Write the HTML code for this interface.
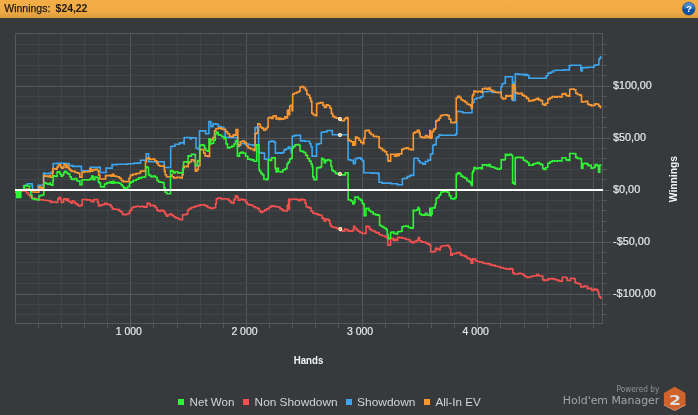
<!DOCTYPE html>
<html><head><meta charset="utf-8"><title>Winnings</title>
<style>
html,body{margin:0;padding:0;background:#363a3d;}
body{width:698px;height:415px;overflow:hidden;position:relative;font-family:"Liberation Sans",sans-serif;}
svg{position:absolute;left:0;top:0;display:block;will-change:transform}
text{font-family:"Liberation Sans",sans-serif;}
</style></head><body>
<svg width="698" height="415" viewBox="0 0 698 415">
<defs>
<linearGradient id="hd" x1="0" y1="0" x2="0" y2="1">
<stop offset="0" stop-color="#f3ae47"/><stop offset="0.6" stop-color="#f1ab44"/><stop offset="1" stop-color="#d99c3d"/>
</linearGradient>
<linearGradient id="hb" x1="0" y1="0" x2="0" y2="1"><stop offset="0" stop-color="#3a80cc"/><stop offset="0.5" stop-color="#2267b8"/><stop offset="0.52" stop-color="#0f55a6"/><stop offset="1" stop-color="#0e4f9c"/></linearGradient>
</defs>
<g shape-rendering="crispEdges">
<rect x="0" y="0" width="698" height="415" fill="#363a3d"/>
<rect x="38" y="33" width="1" height="290" fill="#414548"/>
<rect x="38" y="323" width="1" height="5" fill="#55585b"/>
<rect x="61" y="33" width="1" height="290" fill="#414548"/>
<rect x="61" y="323" width="1" height="5" fill="#55585b"/>
<rect x="84" y="33" width="1" height="290" fill="#414548"/>
<rect x="84" y="323" width="1" height="5" fill="#55585b"/>
<rect x="107" y="33" width="1" height="290" fill="#414548"/>
<rect x="107" y="323" width="1" height="5" fill="#55585b"/>
<rect x="130" y="33" width="1" height="290" fill="#55585b"/>
<rect x="130" y="323" width="1" height="5" fill="#55585b"/>
<rect x="153" y="33" width="1" height="290" fill="#414548"/>
<rect x="153" y="323" width="1" height="5" fill="#55585b"/>
<rect x="177" y="33" width="1" height="290" fill="#414548"/>
<rect x="177" y="323" width="1" height="5" fill="#55585b"/>
<rect x="200" y="33" width="1" height="290" fill="#414548"/>
<rect x="200" y="323" width="1" height="5" fill="#55585b"/>
<rect x="223" y="33" width="1" height="290" fill="#414548"/>
<rect x="223" y="323" width="1" height="5" fill="#55585b"/>
<rect x="246" y="33" width="1" height="290" fill="#55585b"/>
<rect x="246" y="323" width="1" height="5" fill="#55585b"/>
<rect x="269" y="33" width="1" height="290" fill="#414548"/>
<rect x="269" y="323" width="1" height="5" fill="#55585b"/>
<rect x="292" y="33" width="1" height="290" fill="#414548"/>
<rect x="292" y="323" width="1" height="5" fill="#55585b"/>
<rect x="315" y="33" width="1" height="290" fill="#414548"/>
<rect x="315" y="323" width="1" height="5" fill="#55585b"/>
<rect x="338" y="33" width="1" height="290" fill="#414548"/>
<rect x="338" y="323" width="1" height="5" fill="#55585b"/>
<rect x="362" y="33" width="1" height="290" fill="#55585b"/>
<rect x="362" y="323" width="1" height="5" fill="#55585b"/>
<rect x="385" y="33" width="1" height="290" fill="#414548"/>
<rect x="385" y="323" width="1" height="5" fill="#55585b"/>
<rect x="408" y="33" width="1" height="290" fill="#414548"/>
<rect x="408" y="323" width="1" height="5" fill="#55585b"/>
<rect x="431" y="33" width="1" height="290" fill="#414548"/>
<rect x="431" y="323" width="1" height="5" fill="#55585b"/>
<rect x="454" y="33" width="1" height="290" fill="#414548"/>
<rect x="454" y="323" width="1" height="5" fill="#55585b"/>
<rect x="477" y="33" width="1" height="290" fill="#55585b"/>
<rect x="477" y="323" width="1" height="5" fill="#55585b"/>
<rect x="500" y="33" width="1" height="290" fill="#414548"/>
<rect x="500" y="323" width="1" height="5" fill="#55585b"/>
<rect x="524" y="33" width="1" height="290" fill="#414548"/>
<rect x="524" y="323" width="1" height="5" fill="#55585b"/>
<rect x="547" y="33" width="1" height="290" fill="#414548"/>
<rect x="547" y="323" width="1" height="5" fill="#55585b"/>
<rect x="570" y="33" width="1" height="290" fill="#414548"/>
<rect x="570" y="323" width="1" height="5" fill="#55585b"/>
<rect x="593" y="33" width="1" height="290" fill="#55585b"/>
<rect x="593" y="323" width="1" height="5" fill="#55585b"/>
<rect x="15" y="314" width="587" height="1" fill="#414548"/>
<rect x="602" y="314" width="5" height="1" fill="#55585b"/>
<rect x="15" y="304" width="587" height="1" fill="#414548"/>
<rect x="602" y="304" width="5" height="1" fill="#55585b"/>
<rect x="15" y="294" width="587" height="1" fill="#55585b"/>
<rect x="602" y="294" width="9" height="1" fill="#55585b"/>
<rect x="15" y="283" width="587" height="1" fill="#414548"/>
<rect x="602" y="283" width="5" height="1" fill="#55585b"/>
<rect x="15" y="273" width="587" height="1" fill="#414548"/>
<rect x="602" y="273" width="5" height="1" fill="#55585b"/>
<rect x="15" y="262" width="587" height="1" fill="#414548"/>
<rect x="602" y="262" width="5" height="1" fill="#55585b"/>
<rect x="15" y="252" width="587" height="1" fill="#414548"/>
<rect x="602" y="252" width="5" height="1" fill="#55585b"/>
<rect x="15" y="242" width="587" height="1" fill="#55585b"/>
<rect x="602" y="242" width="9" height="1" fill="#55585b"/>
<rect x="15" y="231" width="587" height="1" fill="#414548"/>
<rect x="602" y="231" width="5" height="1" fill="#55585b"/>
<rect x="15" y="221" width="587" height="1" fill="#414548"/>
<rect x="602" y="221" width="5" height="1" fill="#55585b"/>
<rect x="15" y="210" width="587" height="1" fill="#414548"/>
<rect x="602" y="210" width="5" height="1" fill="#55585b"/>
<rect x="15" y="200" width="587" height="1" fill="#414548"/>
<rect x="602" y="200" width="5" height="1" fill="#55585b"/>
<rect x="15" y="190" width="587" height="1" fill="#55585b"/>
<rect x="602" y="190" width="9" height="1" fill="#55585b"/>
<rect x="15" y="179" width="587" height="1" fill="#414548"/>
<rect x="602" y="179" width="5" height="1" fill="#55585b"/>
<rect x="15" y="169" width="587" height="1" fill="#414548"/>
<rect x="602" y="169" width="5" height="1" fill="#55585b"/>
<rect x="15" y="158" width="587" height="1" fill="#414548"/>
<rect x="602" y="158" width="5" height="1" fill="#55585b"/>
<rect x="15" y="148" width="587" height="1" fill="#414548"/>
<rect x="602" y="148" width="5" height="1" fill="#55585b"/>
<rect x="15" y="138" width="587" height="1" fill="#55585b"/>
<rect x="602" y="138" width="9" height="1" fill="#55585b"/>
<rect x="15" y="127" width="587" height="1" fill="#414548"/>
<rect x="602" y="127" width="5" height="1" fill="#55585b"/>
<rect x="15" y="117" width="587" height="1" fill="#414548"/>
<rect x="602" y="117" width="5" height="1" fill="#55585b"/>
<rect x="15" y="106" width="587" height="1" fill="#414548"/>
<rect x="602" y="106" width="5" height="1" fill="#55585b"/>
<rect x="15" y="96" width="587" height="1" fill="#414548"/>
<rect x="602" y="96" width="5" height="1" fill="#55585b"/>
<rect x="15" y="86" width="587" height="1" fill="#55585b"/>
<rect x="602" y="86" width="9" height="1" fill="#55585b"/>
<rect x="15" y="75" width="587" height="1" fill="#414548"/>
<rect x="602" y="75" width="5" height="1" fill="#55585b"/>
<rect x="15" y="65" width="587" height="1" fill="#414548"/>
<rect x="602" y="65" width="5" height="1" fill="#55585b"/>
<rect x="15" y="54" width="587" height="1" fill="#414548"/>
<rect x="602" y="54" width="5" height="1" fill="#55585b"/>
<rect x="15" y="44" width="587" height="1" fill="#414548"/>
<rect x="602" y="44" width="5" height="1" fill="#55585b"/>
<rect x="15" y="33" width="588" height="1" fill="#55585b"/>
<rect x="15" y="323" width="588" height="1" fill="#55585b"/>
<rect x="15" y="33" width="1" height="291" fill="#55585b"/>
<rect x="602" y="33" width="1" height="291" fill="#55585b"/>
</g>
<path d="M15.0 190.0H17.0V191.0H20.5V191.0H23.5V190.5H25.4V191.3H26.6V193.0H28.1V194.7H29.9V196.6H32.0V198.1H34.6V198.8H37.5V199.5H40.3V199.7H43.2V200.2H46.3V200.5H49.0V200.9H50.7V202.4H51.9V202.0H53.9V202.1H56.2V202.4H57.8V198.8H59.1V197.3H60.4V199.5H61.4V202.4H62.6V202.4H63.6V199.1H64.8V198.8H66.1V200.5H67.2V199.1H68.5V201.4H70.0V202.0H71.3V203.1H72.4V200.9H73.6V201.7H75.0V203.4H76.8V204.6H78.6V206.0H80.1V205.7H81.4V204.9H82.3V199.5H83.9V199.5H86.6V199.9H89.1V199.9H90.9V201.4H92.6V201.7H93.9V199.5H95.7V199.5H97.6V202.4H98.6V206.0H99.7V205.7H101.0V204.9H102.8V204.6H104.7V203.4H106.8V204.3H109.1V204.9H110.1V204.9H111.0V206.7H112.4V208.9H114.1V209.2H116.8V209.6H119.4V211.1H121.1V212.1H122.5V214.4H124.2V214.7H126.4V214.0H128.4V213.2H129.7V210.6H130.8V209.6H132.0V207.5H133.6V206.9H136.3V206.3H139.2V206.7H141.8V206.3H143.9V207.2H145.7V206.9H147.1V203.1H148.6V203.8H150.1V205.7H151.6V205.3H153.5V205.7H155.3V207.5H156.8V210.1H158.5V211.1H160.8V210.3H163.1V211.1H164.5V212.9H165.6V214.7H166.7V216.1H167.9V214.7H169.9V214.1H171.8V215.4H173.7V216.8H175.7V217.9H177.9V218.7H180.1V219.7H181.6V219.7H182.6V214.7H184.0V214.7H186.3V214.0H187.7V210.1H189.2V208.6H191.4V207.5H193.6V206.9H195.7V206.0H198.4V205.4H200.4V204.9H202.5V204.7H205.2V205.9H207.5V207.4H210.2V208.4H213.5V207.8H215.6V203.8H216.4V198.7H218.2V198.0H221.1V199.0H224.0V198.7H226.6V199.0H228.8V200.6H230.7V202.6H232.5V203.1H233.9V199.4H235.5V195.8H237.1V197.3H238.3V200.2H240.1V199.4H243.1V199.9H245.6V202.1H247.1V204.1H248.9V204.9H251.1V205.2H253.2V206.7H255.4V207.8H257.6V208.6H259.4V211.0H260.8V212.5H262.6V211.3H264.8V209.9H266.9V208.8H269.1V207.0H271.3V205.9H273.5V206.4H275.6V206.7H277.8V207.0H280.0V208.8H282.1V210.1H284.1V211.0H286.0V211.0H287.3V205.2H288.0V208.8H288.6V199.4H289.1V208.1H289.4V210.3H289.4V200.9H289.8V199.4H291.6V199.2H294.7V199.0H297.3V199.7H299.0V200.6H300.6V199.4H303.0V199.9H305.1V203.1H306.2V206.7H307.9V207.4H309.7V208.1H311.1V211.3H312.9V213.2H315.5V213.9H318.0V214.9H320.2V215.3H322.0V217.9H323.4V219.4H324.5V221.1H325.4V219.0H326.8V219.4H328.5V220.4H329.7V223.7H330.8V226.2H332.4V227.2H334.6V227.6H337.1V228.6H339.3V228.8H340.9V230.9H342.9V231.2H344.6V229.1H346.0V229.5H347.8V230.9H350.1V231.2H352.3V230.5H353.6V226.2H354.7V228.3H356.1V229.5H357.9V231.2H359.9V232.4H362.1V233.4H364.4V233.4H366.1V226.2H367.7V226.6H369.5V229.1H371.1V230.5H373.6V231.2H375.2V232.1H376.6V232.9H379.2V234.7H381.9V235.8H384.9V236.8H387.0V237.9H387.8V245.1H389.3V245.1H390.6V238.7H391.9V238.3H393.3V240.5H394.7V239.3H396.4V240.5H397.6V237.3H399.4V237.6H402.5V238.3H405.5V239.3H407.9V239.7H409.9V241.6H411.9V242.6H414.1V241.6H416.4V240.5H418.3V237.6H419.5V240.8H421.3V241.9H423.7V242.2H425.8V243.3H427.8V244.1H429.6V245.1H430.7V251.7H432.1V252.0H434.1V251.3H435.6V248.4H437.2V249.1H439.1V250.0H440.3V247.3H441.3V246.0H443.6V245.8H446.5V245.4H448.6V246.8H449.8V248.7H450.8V255.2H452.2V253.8H454.6V253.5H457.0V252.6H458.8V252.6H460.4V254.9H462.2V255.5H464.7V256.4H466.9V258.1H468.7V258.8H470.4V259.9H471.2V263.2H472.0V263.2H472.7V258.8H473.7V258.8H475.4V260.7H477.4V261.7H480.3V262.2H483.2V263.2H485.7V263.6H488.2V263.9H490.4V265.1H492.8V265.4H495.3V266.2H498.0V266.8H500.5V267.7H503.0V268.2H505.6V269.0H507.7V269.1H509.9V268.5H511.6V269.0H512.9V272.9H514.2V274.0H516.2V274.0H518.6V273.3H520.7V273.7H523.4V275.5H525.4V276.7H526.9V277.5H529.5V276.7H532.2V276.0H534.7V275.7H536.7V274.6H538.5V275.7H540.9V276.0H542.7V279.6H543.9V280.4H545.7V280.1H547.9V278.9H550.4V278.6H552.9V278.9H555.1V279.8H557.3V280.4H559.4V281.1H561.2V281.1H562.3V277.2H563.8V277.2H565.8V277.8H567.2V280.4H568.9V280.4H570.6V278.2H572.3V278.3H574.1V278.9H575.0V282.5H576.4V283.2H578.9V284.0H580.8V286.9H582.0V286.9H584.0V286.1H586.0V286.4H587.5V288.7H588.7V288.3H590.4V288.4H591.7V290.5H593.0V290.2H594.3V289.0H595.9V289.6H597.6V291.2H598.5V293.4H599.1V296.2H599.8V297.1H600.8V298.3H601.4" fill="none" stroke="#f55050" stroke-width="1.6" stroke-linejoin="miter" stroke-linecap="butt"/>
<path d="M15.0 190.0H19.0V190.0H23.1V189.9H23.7V185.6H25.5V185.2H27.2V183.8H29.6V183.8H32.1V186.0H32.6V189.9H35.4V190.0H38.0V189.9H38.1V185.2H40.8V185.2H43.6V173.0H45.2V173.7H48.4V173.4H51.2V172.1H52.7V172.1H53.2V163.5H57.0V163.3H64.8V163.5H69.2V165.6H70.7V165.6H72.8V166.4H77.3V166.4H81.4V170.7H85.8V170.7H90.2V167.4H95.2V167.4H100.2V172.5H103.1V172.5H106.1V168.1H108.2V168.1H110.1V168.2H111.0V168.2H112.1V164.6H117.1V164.3H127.8V163.8H134.2V163.1H137.3V163.1H140.5V160.2H143.3V160.2H146.2V153.7H147.4V153.7H148.6V161.7H156.4V161.7H164.2V167.5H167.5V167.5H170.7V146.5H172.9V146.1H175.1V144.3H177.3V144.3H179.5V142.9H181.7V142.9H183.8V140.7H184.1V144.0H184.2V137.5H187.2V137.5H190.5V138.9H191.3V137.8H193.7V137.8H196.0V148.3H197.8V149.0H199.5V130.9H202.5V130.9H205.6V133.8H207.3V133.8H208.9V121.6H209.9V121.6H210.9V126.6H211.8V126.2H213.2V123.7H215.9V124.2H218.3V126.6H220.9V127.3H223.8V129.5H225.2V137.2H228.3V137.5H233.8V137.5H237.6V146.8H238.8V145.4H240.8V143.5H244.7V144.0H249.0V144.7H252.8V145.4H255.1V127.6H256.9V127.3H258.6V152.6H261.5V153.1H264.5V159.1H266.7V159.1H268.7V141.8H270.8V141.1H273.8V142.1H275.4V153.3H277.9V152.8H280.5V153.2H282.4V152.5H284.2V149.6H286.2V148.8H288.3V147.0H289.8V148.4H291.2V152.5H292.2V136.3H294.4V135.4H298.1V135.4H300.5V140.9H305.0V141.3H309.7V143.8H311.0V146.7H312.1V156.1H314.3V156.1H316.6V144.1H319.0V143.5H321.3V132.2H324.2V131.7H327.2V130.5H329.8V130.5H332.3V134.8H336.3V134.8H343.9V134.8H348.1V159.7H350.7V160.4H353.4V163.7H354.5V163.3H355.4V158.5H357.9V157.9H360.7V159.1H362.4V160.9H363.8V172.8H371.1V173.1H378.3V174.2H378.7V173.7H379.1V182.3H382.1V183.1H390.9V183.8H397.4V184.7H400.0V184.7H402.4V178.7H404.7V178.3H407.3V176.6H409.9V175.4H412.7V175.1H413.7V165.0H414.0V164.9H414.0V158.3H415.9V158.3H418.3V160.9H419.8V162.7H422.7V164.1H425.3V161.5H427.9V160.1H430.5V154.3H431.8V153.7H432.9V145.3H434.5V144.6H436.2V138.1H437.4V136.7H439.1V134.9H440.5V135.3H448.0V135.2H455.8V134.0H456.8V111.6H456.9V112.7H457.0V111.2H459.7V111.8H462.8V112.7H467.4V112.7H472.0V102.9H473.1V102.3H474.1V99.0H476.4V98.0H480.5V96.8H482.9V91.7H487.5V91.5H492.2V92.5H496.5V92.5H501.0V86.7H502.2V83.8H503.8V83.2H505.3V76.8H508.9V76.8H512.4V100.4H513.0V82.3H513.6V100.4H514.5V100.4H515.3V73.7H518.0V74.4H522.7V74.8H525.0V74.3H525.2V75.4H525.8V74.6H527.3V75.3H528.9V78.2H537.5V78.2H546.2V75.7H547.9V73.1H550.9V72.0H553.4V70.5H556.2V70.2H563.6V69.9H569.3V65.6H570.8V65.2H576.1V65.2H580.8V70.5H581.6V71.0H582.3V67.6H588.0V67.3H594.0V65.3H596.5V64.7H598.9V59.0H599.8V58.0H600.7V56.5H601.1" fill="none" stroke="#3ca5ee" stroke-width="1.6" stroke-linejoin="miter" stroke-linecap="butt"/>
<path d="M15.0 192.3H15.7V192.3H16.6V190.3H20.4V190.0H25.0V189.0H27.0V189.0H29.0V190.0H31.3V192.0H35.6V192.2H38.8V190.0H39.0V189.9H39.0V187.1H39.3V186.7H40.1V187.6H41.5V188.2H42.9V187.6H43.6V175.6H45.0V176.1H47.3V176.7H49.2V175.6H50.4V177.2H51.6V177.3H52.6V173.0H52.9V168.5H54.2V168.7H56.0V169.1H57.1V167.1H58.1V165.2H59.4V164.8H60.6V166.9H61.6V168.2H63.0V167.4H64.0V164.3H65.0V164.5H66.0V167.4H67.0V165.2H67.9V167.6H69.0V169.1H70.3V170.4H71.5V171.4H72.8V171.3H75.0V172.5H77.8V173.2H79.8V177.1H81.1V177.1H82.0V172.2H83.7V171.7H87.2V171.7H89.8V168.8H91.0V171.3H92.7V169.9H95.3V169.3H97.4V170.7H98.7V175.3H99.9V179.0H102.8V179.0H105.6V175.6H108.0V175.6H110.1V175.0H111.2V176.1H112.8V174.4H113.9V176.1H116.5V176.8H119.4V178.3H121.3V180.5H123.1V181.6H126.2V181.6H129.1V178.3H130.3V175.4H132.7V174.4H136.1V173.5H139.0V173.2H140.5V171.1H142.9V171.1H145.5V161.7H146.5V158.5H147.9V158.1H149.7V159.5H152.0V159.1H154.8V160.9H156.8V163.1H158.2V165.3H159.8V166.3H162.4V166.0H164.4V171.1H165.2V174.7H166.5V176.8H168.9V176.8H171.0V174.7H172.0V176.8H173.8V177.9H176.9V177.3H180.2V177.9H182.2V174.7H183.1V167.5H184.5V166.3H186.7V166.7H188.2V163.1H189.4V161.7H191.4V159.9H193.8V161.4H195.4V171.1H196.8V169.6H198.3V166.0H199.3V165.7H200.0V162.8H200.0V149.3H201.6V149.7H203.7V153.1H205.1V155.9H207.7V156.5H209.6V140.6H211.0V139.6H213.0V137.5H214.5V130.9H215.9V128.8H218.3V128.1H221.4V129.1H223.9V129.5H225.7V131.7H227.5V133.8H229.5V136.3H231.4V136.7H233.2V134.9H234.9V135.3H236.0V129.5H236.9V129.5H237.8V146.1H238.8V144.7H240.3V141.8H242.3V141.1H244.7V142.9H246.5V145.8H248.1V147.9H250.5V149.0H253.4V150.5H255.1V133.8H256.4V133.1H257.7V123.7H258.9V124.2H260.3V127.0H261.8V128.1H263.6V130.2H265.5V128.8H267.1V127.3H268.1V118.0H269.4V117.2H271.4V118.4H273.1V116.1H274.5V115.8H276.1V119.0H277.5V118.0H279.1V119.4H280.1V118.3H281.3V119.3H283.1V118.7H284.8V116.8H286.4V117.9H287.5V110.6H288.3V110.1H289.1V114.7H289.7V106.0H290.9V105.3H292.1V110.6H292.7V94.2H294.2V93.3H296.6V92.3H298.8V91.3H300.1V87.2H301.5V86.5H303.7V88.0H305.5V90.1H306.8V94.2H308.3V95.2H309.7V98.1H310.8V101.4H311.8V113.2H313.2V114.7H315.3V115.8H316.7V103.8H318.2V103.1H320.8V102.5H323.0V105.3H324.4V107.5H326.3V104.9H328.1V105.7H329.9V108.2H331.4V113.5H332.7V116.4H334.6V117.6H336.9V118.3H339.0V119.0H340.8V120.5H342.6V120.8H344.4V118.7H346.0V117.6H347.3V117.9H348.1V140.0H348.3V139.9H349.2V140.7H351.2V141.7H352.8V145.1H353.9V141.7H354.7V144.6H355.5V137.0H357.0V138.1H359.0V140.3H360.8V142.5H362.6V143.6H363.9V138.1H365.0V130.6H367.3V130.2H369.3V132.6H370.9V134.5H373.4V136.4H376.7V136.7H379.1V147.5H380.5V148.5H382.5V150.4H384.6V151.8H386.7V154.7H387.9V160.9H389.4V161.2H390.6V154.3H392.2V154.3H394.6V156.2H396.4V154.0H397.8V155.8H399.0V153.7H400.5V154.0H401.8V149.4H403.6V148.5H406.1V147.9H408.3V149.0H410.8V149.7H412.7V149.7H413.3V133.1H414.7V132.1H417.3V130.2H419.3V133.1H420.1V136.7H421.7V137.4H423.8V137.8H425.5V135.5H427.4V137.4H429.0V136.7H429.8V130.6H430.4V138.1H431.3V137.4H432.1V131.6H433.6V129.4H435.1V128.7H435.8V121.1H437.2V120.1H439.1V118.2H440.4V115.6H442.3V115.0H445.2V114.9H447.6V115.6H449.2V119.2H450.8V122.5H452.8V122.8H454.9V122.1H456.2V98.0H457.7V96.2H459.7V97.5H461.1V99.7H462.9V100.8H465.1V102.3H466.9V104.0H468.7V104.7H470.5V105.5H471.4V108.3H471.8V108.3H472.3V96.1H472.9V94.6H473.9V91.0H475.7V91.9H478.5V91.3H481.0V92.2H482.4V88.8H484.2V88.4H486.8V89.3H488.6V88.1H490.4V90.3H492.6V91.3H494.7V92.2H497.3V92.5H499.7V92.2H501.2V97.5H502.7V99.0H504.7V98.5H505.9V95.6H507.5V96.1H510.1V95.6H511.9V99.0H512.6V84.9H513.4V85.2H514.4V88.1H515.3V92.8H517.3V93.6H520.0V93.2H522.2V95.1H524.1V96.1H525.1V96.5H526.6V98.4H528.7V100.9H530.8V100.6H533.3V99.9H535.6V99.1H537.3V98.4H538.8V99.9H540.8V100.6H542.5V104.2H544.1V105.2H545.9V103.2H547.9V99.1H550.0V97.7H552.2V96.5H554.7V97.1H557.3V96.5H559.8V97.0H562.0V94.1H563.8V93.6H565.9V95.5H568.1V96.2H569.7V89.3H571.5V89.0H574.1V89.7H575.8V93.3H577.4V94.5H579.9V95.1H581.5V102.0H583.1V101.7H585.7V101.3H587.7V104.3H589.3V104.9H591.2V105.6H593.2V105.2H595.1V103.8H597.0V104.3H598.8V106.1H600.4V107.8H601.3" fill="none" stroke="#fb9832" stroke-width="1.6" stroke-linejoin="miter" stroke-linecap="butt"/>
<path d="M15.0 190.0H15.8V190.0H16.8V197.5H17.4V191.0H18.1V197.5H18.8V191.5H19.5V197.5H20.2V197.5H20.8V190.0H22.4V190.0H23.9V189.9H24.2V186.0H25.3V185.6H27.8V186.0H29.6V189.9H30.6V194.7H31.8V198.5H33.0V199.0H35.0V199.5H37.5V200.0H39.0V196.0H40.1V195.5H42.2V195.0H43.6V194.7H43.8V182.6H45.3V183.2H47.3V184.1H48.6V184.3H49.6V183.0H50.4V184.7H51.7V185.2H52.9V180.8H53.3V175.8H54.4V176.1H56.1V176.5H57.1V172.1H57.8V171.7H59.0V172.1H60.0V174.3H61.2V176.1H62.5V175.2H63.5V173.0H64.4V171.3H65.6V172.1H66.9V173.0H67.9V173.9H68.7V174.3H69.9V176.9H71.3V179.1H72.8V179.4H74.7V178.5H76.8V180.8H78.6V181.1H79.9V184.7H81.0V184.7H81.9V180.0H83.7V179.7H87.0V180.0H89.8V179.0H91.6V176.1H93.1V179.7H94.9V177.1H96.9V177.5H98.2V181.8H99.2V182.9H100.5V186.6H102.3V186.9H104.5V184.0H106.5V182.9H108.8V182.6H110.1V181.9H111.4V183.3H113.1V181.2H113.9V182.9H115.9V182.6H118.8V183.3H121.0V184.8H122.4V186.5H123.8V188.1H125.7V188.0H127.8V186.5H129.5V183.1H130.9V181.9H133.2V180.5H136.3V179.3H138.8V177.9H141.5V177.3H144.4V176.8H145.7V166.7H147.0V167.5H148.5V174.7H149.4V175.4H150.9V176.8H153.1V176.1H155.3V177.3H157.1V180.5H158.5V181.9H160.3V182.2H162.5V182.6H164.0V187.7H165.1V192.3H166.8V193.8H169.1V193.8H170.5V170.6H171.9V171.1H173.3V172.9H175.1V171.8H178.0V172.9H180.9V172.9H182.7V168.9H183.5V162.0H184.9V161.7H186.9V162.4H188.1V155.9H189.3V156.2H191.4V154.4H193.8V154.4H195.1V154.8H195.4V165.6H196.3V165.2H197.6V160.9H198.8V160.6H199.7V145.4H201.2V144.7H203.3V145.4H204.6V148.3H205.8V150.5H207.7V151.2H209.0V138.9H209.7V139.6H210.3V144.0H211.6V143.2H213.6V140.1H215.3V133.8H216.6V132.4H218.2V134.9H220.1V135.3H221.9V136.7H224.1V138.6H226.0V144.0H227.5V147.9H229.5V147.3H231.9V146.1H234.0V144.0H235.5V141.1H236.6V140.3H237.4V155.9H238.4V156.2H239.5V153.1H241.1V152.2H243.4V153.3H245.6V156.2H247.8V159.1H250.7V159.9H253.7V161.3H255.9V161.3H256.7V144.7H257.8V144.7H259.0V169.2H259.6V171.2H260.9V173.4H262.5V174.9H263.9V179.2H265.8V179.6H267.4V178.8H268.2V159.7H269.6V160.4H271.6V157.9H273.6V157.9H275.2V168.3H276.1V172.0H277.1V168.3H278.4V171.5H280.4V172.0H282.8V169.8H285.1V168.6H287.0V164.0H288.2V162.3H289.6V159.0H291.1V158.2H292.1V148.1H293.2V146.4H295.0V144.9H297.2V144.5H299.0V145.2H300.1V151.0H301.5V151.4H303.7V152.5H305.7V155.3H307.5V158.5H309.4V161.1H311.0V164.0H312.2V166.9H312.8V177.0H314.0V179.6H315.6V179.6H316.7V167.9H318.2V167.6H320.3V166.9H321.6V158.2H322.7V159.4H324.2V162.6H325.5V160.4H327.4V159.7H329.6V160.8H331.0V166.2H331.9V170.1H333.3V171.5H335.5V173.4H337.7V174.1H339.3V174.1H340.8V174.9H343.3V174.9H345.3V172.7H346.7V172.7H348.0V185.0H348.2V199.7H349.2V200.0H351.2V201.1H352.8V204.0H353.9V202.6H354.9V197.1H356.3V197.1H358.4V199.0H360.6V200.4H362.3V203.3H363.3V204.3H364.2V215.6H365.1V215.6H366.0V208.6H367.2V208.3H368.9V210.5H370.7V212.0H373.2V214.1H375.8V214.9H377.9V215.1H379.2V215.2H379.6V225.3H380.9V226.0H382.6V227.2H384.4V228.2H386.2V229.6H387.3V234.7H388.3V238.7H389.6V238.3H390.6V232.5H391.9V232.1H393.8V233.5H396.0V234.0H397.6V231.8H399.4V231.5H401.3V231.1H402.1V226.7H403.7V226.3H406.1V226.0H408.3V227.5H410.8V228.2H412.7V227.8H413.3V210.1H413.4V210.9H414.6V210.5H416.7V209.8H417.9V207.6H418.8V209.1H419.6V213.8H421.2V214.9H423.5V215.3H425.3V213.4H427.1V214.9H428.9V215.3H429.8V208.3H430.4V215.6H431.3V214.1H432.1V208.1H433.6V207.6H435.2V204.0H436.1V198.5H437.4V197.5H439.1V195.3H440.0V194.9H440.8V192.3H442.7V191.4H445.2V191.6H447.6V192.3H449.2V195.6H450.8V198.5H452.8V199.0H454.9V197.8H456.2V174.4H457.7V172.7H459.7V174.0H461.1V176.1H462.9V177.3H465.1V178.3H466.9V180.5H468.7V181.6H470.5V182.6H471.4V185.5H471.8V185.5H472.3V172.9H472.9V171.1H473.9V167.5H475.7V168.6H478.5V167.8H481.0V168.6H482.4V164.9H484.2V164.9H486.8V166.0H488.6V164.6H490.4V166.7H492.6V167.2H494.7V168.2H497.3V169.2H499.7V168.6H501.2V159.9H502.7V159.9H504.5V159.5H505.4V154.4H506.9V155.2H509.2V154.2H511.3V155.2H512.6V182.6H513.4V183.3H514.4V184.1H515.2V157.6H517.2V157.3H520.4V157.6H523.4V160.2H525.4V161.3H527.1V162.5H528.9V165.3H530.5V165.1H533.1V163.9H535.6V163.2H537.4V162.5H539.2V163.9H541.2V164.6H542.7V168.5H544.1V169.4H545.9V167.5H547.9V163.2H550.0V161.7H552.2V160.7H554.7V161.3H557.3V160.7H559.8V161.0H562.0V157.8H563.8V157.8H565.9V159.9H568.1V160.4H569.7V153.5H571.5V153.5H574.1V153.8H575.8V157.4H577.4V158.4H579.9V158.8H581.5V168.2H582.2V168.2H582.9V163.6H584.5V163.2H586.5V163.9H588.0V165.6H589.4V165.3H591.2V168.2H593.2V167.5H595.1V164.6H597.0V165.6H598.5V172.3H599.2V172.3H599.8V165.3H600.6V165.1H601.3" fill="none" stroke="#2ff535" stroke-width="1.6" stroke-linejoin="miter" stroke-linecap="butt"/>

<g shape-rendering="crispEdges"><rect x="15" y="189" width="588" height="2" fill="#ffffff"/></g>
<circle cx="340" cy="119" r="1.45" fill="#ffab22" stroke="#ffffff" stroke-width="1.1"/>
<circle cx="340" cy="135" r="1.45" fill="#ffab22" stroke="#ffffff" stroke-width="1.1"/>
<circle cx="340" cy="174" r="1.45" fill="#ffab22" stroke="#ffffff" stroke-width="1.1"/>
<circle cx="340.3" cy="229" r="1.45" fill="#ffab22" stroke="#ffffff" stroke-width="1.1"/>

<rect x="0" y="0" width="698" height="18" fill="url(#hd)"/>
<text x="4.3" y="11.8" font-size="10.4" fill="#1c1a17" stroke="#1c1a17" stroke-width="0.25" textLength="46" lengthAdjust="spacingAndGlyphs">Winnings:</text>
<text x="55.6" y="11.8" font-size="10.4" font-weight="bold" fill="#1c1a17" textLength="31.8" lengthAdjust="spacingAndGlyphs">$24,22</text>
<circle cx="688.75" cy="8.65" r="6.35" fill="url(#hb)" stroke="#0d4a93" stroke-width="0.6"/>
<ellipse cx="688.75" cy="5.4" rx="4.6" ry="2.6" fill="#ffffff" opacity="0.13"/>
<text x="688.9" y="11.9" font-size="9.6" font-weight="bold" fill="#ffffff" text-anchor="middle">?</text>
<g font-size="11.3" fill="#e8e8e8" stroke="#e8e8e8" stroke-width="0.2">
<text x="613" y="89.3" textLength="38.8" lengthAdjust="spacingAndGlyphs">$100,00</text>
<text x="613" y="141.3" textLength="33" lengthAdjust="spacingAndGlyphs">$50,00</text>
<text x="613" y="193.3" textLength="27.2" lengthAdjust="spacingAndGlyphs">$0,00</text>
<text x="613" y="245.3" textLength="37" lengthAdjust="spacingAndGlyphs">-$50,00</text>
<text x="613" y="297.3" textLength="42.8" lengthAdjust="spacingAndGlyphs">-$100,00</text>
<text x="115.7" y="335" textLength="26.2" lengthAdjust="spacingAndGlyphs">1 000</text>
<text x="231.4" y="335" textLength="26.2" lengthAdjust="spacingAndGlyphs">2 000</text>
<text x="347" y="335" textLength="26.2" lengthAdjust="spacingAndGlyphs">3 000</text>
<text x="462.6" y="335" textLength="26.2" lengthAdjust="spacingAndGlyphs">4 000</text>
</g>
<text x="293.7" y="363.8" font-size="10.8" font-weight="bold" fill="#f4f4f4" textLength="29.7" lengthAdjust="spacingAndGlyphs">Hands</text>
<text transform="translate(677,202.2) rotate(-90)" font-size="11" font-weight="bold" fill="#f4f4f4" textLength="46.2" lengthAdjust="spacingAndGlyphs">Winnings</text>
<g font-size="11.6" fill="#d4d4d4">
<rect x="178" y="399" width="6" height="6" fill="#2ff535"/>
<text x="189.6" y="406.1" textLength="44.9" lengthAdjust="spacingAndGlyphs">Net Won</text>
<rect x="243" y="399" width="6" height="6" fill="#f55050"/>
<text x="254.6" y="406.1" textLength="83" lengthAdjust="spacingAndGlyphs">Non Showdown</text>
<rect x="346" y="399" width="6" height="6" fill="#3ca5ee"/>
<text x="357" y="406.1" textLength="58.5" lengthAdjust="spacingAndGlyphs">Showdown</text>
<rect x="424" y="399" width="6" height="6" fill="#fb9832"/>
<text x="435.4" y="406.1" textLength="45.4" lengthAdjust="spacingAndGlyphs">All-In EV</text>
</g>
<text x="616.6" y="391.9" font-size="8" fill="#909294" style="font-family:'DejaVu Sans','Liberation Sans',sans-serif" textLength="42.7" lengthAdjust="spacingAndGlyphs">Powered by</text>
<text x="562.8" y="404.1" font-size="11" fill="#a2a4a6" style="font-family:'DejaVu Sans','Liberation Sans',sans-serif" textLength="96.5" lengthAdjust="spacingAndGlyphs">Hold'em Manager</text>
<polygon points="674.7,386.8 685.5,393.1 685.5,405 674.7,410.5 663.9,405 663.9,393.1" fill="#d0622b"/>
<polyline points="663.9,405 674.7,410.5 685.5,405" fill="none" stroke="#e8a27c" stroke-width="0.8"/>
<text x="669" y="404.7" font-size="14.5" font-weight="bold" fill="#dedede" textLength="12" lengthAdjust="spacingAndGlyphs" style="font-family:'DejaVu Sans','Liberation Sans',sans-serif">2</text>
</svg>
</body></html>
